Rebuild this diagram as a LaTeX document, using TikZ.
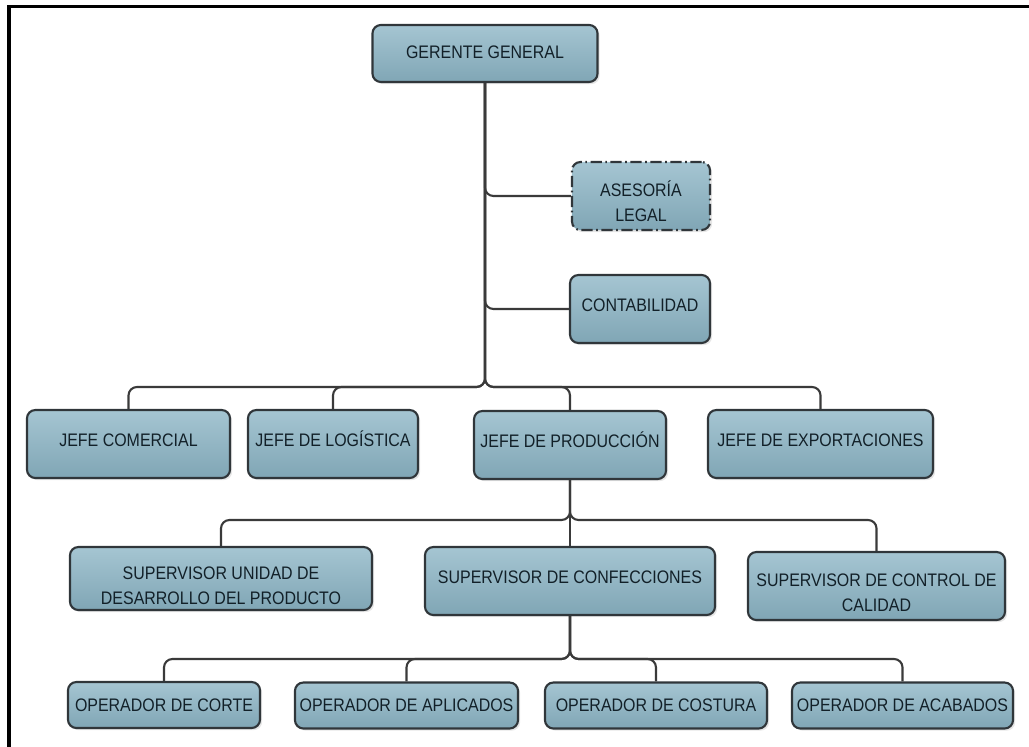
\documentclass[tikz,border=0pt]{standalone}
\usepackage{fontspec}
\setmainfont{Liberation Sans}[FakeStretch=0.88]
\usetikzlibrary{positioning,shadows}

\definecolor{cajaarriba}{RGB}{165,197,210}
\definecolor{cajaabajo}{RGB}{128,166,181}
\definecolor{borde}{RGB}{48,54,58}
\definecolor{linea}{RGB}{58,58,58}
\definecolor{letra}{RGB}{18,32,40}

% strut so that two-line boxes sit a bit low, as in the chart
\newcommand{\dosrenglones}{\rule{0pt}{0.675cm}}

\begin{document}
\begin{tikzpicture}[x=0.025cm, y=-0.025cm,
	cargo/.style={draw=borde, line width=1.5pt, rounded corners=6pt,
		top color=cajaarriba, bottom color=cajaabajo, text=letra,
		font=\fontsize{12.9}{17.8}\selectfont, align=center, inner sep=0pt,
		drop shadow={shadow xshift=1.5pt, shadow yshift=-1.5pt, opacity=0.2}},
	alto/.style={minimum height=1.7cm, text height=0.36cm, text depth=0.235cm},
	operario/.style={cargo, minimum height=1.15cm},
	externo/.style={dash pattern=on 8pt off 2.5pt on 1.2pt off 2.5pt},
	enlace/.style={draw=linea, line width=1.5pt, rounded corners=6pt}]

	\useasboundingbox (0,0) rectangle (1029,747);
	\draw[line width=2.2pt] (9,747) -- (9,6.5) -- (1029,6.5);

	% niveles de las lineas horizontales
	\coordinate (nivel1) at (0,387);
	\coordinate (nivel2) at (0,520);
	\coordinate (nivel3) at (0,659);

	\node[cargo, minimum width=5.625cm, minimum height=1.425cm, text height=0.38cm, text depth=0.135cm] (gerente) at (485,53.5) {GERENTE GENERAL};
	\node[cargo, externo, minimum width=3.45cm, minimum height=1.7cm] (asesoria) at (641,196) {\dosrenglones ASESORÍA\\LEGAL};
	\node[cargo, alto, minimum width=3.5cm] (contabilidad) at (640,309) {CONTABILIDAD};

	\node[cargo, alto, minimum width=5.075cm] (comercial) at (128.5,444) {JEFE COMERCIAL};
	\node[cargo, alto, minimum width=4.25cm] (logistica) at (333,444) {JEFE DE LOGÍSTICA};
	\node[cargo, alto, minimum width=4.8cm] (produccion) at (570,445) {JEFE DE PRODUCCIÓN};
	\node[cargo, alto, minimum width=5.625cm] (exportaciones) at (820.5,444) {JEFE DE EXPORTACIONES};

	\node[cargo, minimum width=7.55cm, minimum height=1.575cm] (unidad) at (221,578.5) {\dosrenglones SUPERVISOR UNIDAD DE\\DESARROLLO DEL PRODUCTO};
	\node[cargo, alto, minimum width=7.25cm] (confecciones) at (570,581) {SUPERVISOR DE CONFECCIONES};
	\node[cargo, minimum width=6.425cm, minimum height=1.7cm] (control) at (876.5,586) {\dosrenglones SUPERVISOR DE CONTROL DE\\CALIDAD};

	\node[operario, minimum width=4.8cm] (corte) at (164,705) {OPERADOR DE CORTE};
	\node[operario, minimum width=5.575cm] (aplicados) at (406.5,705.5) {OPERADOR DE APLICADOS};
	\node[operario, minimum width=5.55cm] (costura) at (656,705.5) {OPERADOR DE COSTURA};
	\node[operario, minimum width=5.525cm] (acabados) at (902.5,705.5) {OPERADOR DE ACABADOS};

	\draw[enlace] (gerente.south) |- (asesoria.west);
	\draw[enlace] (gerente.south) |- (contabilidad.west);
	\foreach \j in {comercial,logistica,produccion,exportaciones}
		\draw[enlace] (gerente.south) |- (\j.north |- nivel1) -- (\j.north);

	\foreach \s in {unidad,control}
		\draw[enlace] (produccion.south) |- (\s.north |- nivel2) -- (\s.north);
	\draw[enlace] (produccion.south) -- (confecciones.north);

	\foreach \o in {corte,aplicados,costura,acabados}
		\draw[enlace] (confecciones.south) |- (\o.north |- nivel3) -- (\o.north);
\end{tikzpicture}
\end{document}
